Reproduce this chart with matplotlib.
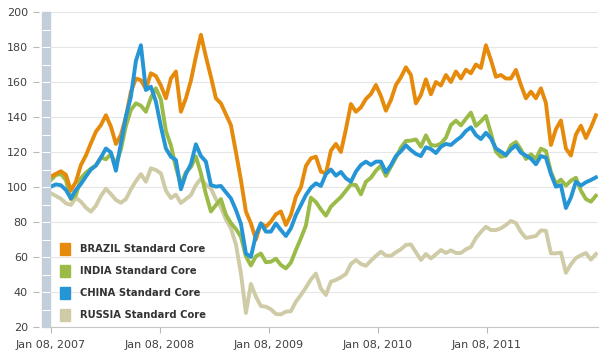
import pandas as pd
import matplotlib
matplotlib.use("Agg")
import matplotlib.pyplot as plt
import matplotlib.dates as mdates
import matplotlib.transforms as mtransforms
from matplotlib.patches import Rectangle

# roughly every 2.4 weeks, Jan 2007 - Jan 2012 (rebased index, start = 100)
dates = pd.date_range("2007-01-08", "2012-01-08", periods=110)

brazil = [106, 107.5, 109, 107, 98, 103, 112.6, 118, 125, 131.6, 135.4, 141, 134.5, 124.6, 129.7, 140,
          154.5, 162, 161, 156, 165, 163.4, 158,
          150.7, 162, 166, 143, 150.7, 160.8, 174.5, 187, 174.5, 163, 150.7, 147.8, 141.5, 135.4, 120, 104,
          86, 79.2, 70, 79.2, 77.3, 80.2,
          84.4, 86, 78.3, 84, 94.5, 99.8, 112, 116.4, 117.3, 108.8, 107.8, 120.8, 124.6, 120, 133, 147.4,
          143, 145.5, 150.3, 153.1, 158.3, 152,
          143.6, 149.7, 158.3, 162.7, 168.4, 164, 147.8, 152.6, 161.5, 153, 160, 158, 164, 160, 166, 162,
          167, 165, 170, 168, 181,
          172.6, 163, 164, 162, 162, 166.9, 158.3, 150.7, 154.5, 150.7, 156.4, 148, 124, 133, 138, 122,
          118, 130, 135, 128, 134, 141]
india = [104, 106.9, 107.4, 104, 93, 95.4, 105, 108.2, 110.5, 112.4, 117, 115.8, 118.9, 113, 121.5, 134.9,
         144, 147.8, 146.5, 143, 151, 156.4, 150,
         132, 123.8, 111.2, 101.3, 108.4, 111.4, 117.5, 107.8, 96, 86, 89.7, 93.1, 84.2, 79.4, 76, 71.6,
         60.4, 55.2, 60.4, 62, 57, 57.3,
         59, 55.4, 53.5, 56.8, 64, 70.7, 78, 93.9, 91.4, 87.2, 83.6, 88.8, 91.6, 94.3, 97.9, 101.5, 101.1,
         95.8, 103, 105.3, 109.3, 112.2,
         106.3, 111.6, 116.8, 122.5, 126.3, 126.5, 127.2, 123, 129.5, 124, 123.6, 124.8, 128.2, 135.4,
         137.9, 135.2, 139, 142.5, 134.9, 137.5, 140.6,
         130.7, 120.2, 117.3, 117.9, 123.8, 125.7, 121.5, 116, 118.7, 116, 121.9, 120.6, 108.6, 101.9,
         104.2, 100.8, 103.6, 105.3, 97.9, 93.1, 91.6, 95]
china = [100.2, 101.5, 101, 98.3, 93.5, 98.3, 101.7, 106, 110, 112.2, 116.8, 122, 119.8, 109.3, 125, 140.2,
         151.6, 172, 181, 155.4, 157.3, 148.8, 134.5,
         122, 117.3, 115.4, 98.7, 107.4, 113.1, 124.4, 117.7, 114.5, 101.1, 100.2, 100.6, 97, 93.5, 86.9,
         79, 62, 60, 72.6, 79.2, 74.5, 74.5,
         79.2, 75.4, 72, 76.4, 84, 89.7, 95.4, 99.6, 102.1, 100.6, 107.4, 110, 106.5, 108.6, 105, 103,
         108.8, 112.6, 114.5, 112.6, 114.5, 114.5,
         108.4, 112.4, 117.7, 120.4, 123.8, 121.1, 118.9, 117.7, 122.7, 121.7, 119.4, 123, 124.6, 124,
         126.5, 128.6, 132, 134.1, 129.7, 127.4, 131,
         127.8, 122, 120.2, 118.3, 121.5, 123.8, 119.6, 118, 116.2, 113, 117.7, 116.8, 107.4, 100.2, 101,
         88, 94, 103, 100.8, 102.7, 104, 105.5]
russia = [96.4, 94.9, 93.3, 90.7, 89.7, 93.9, 91.6, 88.2, 85.9, 89.3, 94.9, 99, 96, 92.6, 91, 93.1, 98.7,
          103.4, 107.4, 103, 110.7, 109.7, 107.8,
          97.9, 93.7, 95.6, 90.9, 93.1, 95.4, 101.1, 104.8, 101.3, 99.2, 93.1, 88.4, 81.5, 76.4, 67.2, 50.7,
          28, 44.6, 37.3, 32, 31.6, 30.1,
          27.4, 27.2, 28.8, 29, 34.5, 38.3, 42.5, 47.2, 50.5, 41.9, 38.3, 45.9, 46.9, 48.4, 50.3, 56, 58.3,
          56, 55, 57.9, 60.6, 63,
          60.8, 60.6, 62.7, 64.4, 66.9, 67.2, 62.7, 58.3, 61.7, 59.2, 61.5, 64, 62.3, 63.8, 62.3, 62.3,
          64.4, 65.7, 70.9, 74.3, 77.3,
          75.4, 75.4, 76.4, 78.3, 80.6, 79.4, 74.3, 70.9, 71.4, 72, 75.2, 75, 62.1, 62.1, 62.5, 51, 55.8,
          59.4, 61, 62.3, 58.5, 61.7]

names = ["BRAZIL Standard Core", "INDIA Standard Core", "CHINA Standard Core", "RUSSIA Standard Core"]
colors = ["#e68a0c", "#9bbb48", "#2595d5", "#cfcba6"]
series = [brazil, india, china, russia]
zorders = [3, 2, 4, 1]

fig = plt.figure(figsize=(6.09, 3.56), dpi=100)
ax = fig.add_axes([50 / 609, 29 / 356, 548 / 609, 315 / 356])

for vals, c, z, n in zip(series, colors, zorders, names):
    ax.plot(dates, vals, color=c, lw=2.8, zorder=z, label=n, solid_joinstyle="round")

ax.set_ylim(20, 200)
ax.set_yticks(range(20, 201, 20))
ax.set_xlim(pd.Timestamp("2007-01-05"), pd.Timestamp("2012-01-15"))
ax.set_xticks(pd.to_datetime(["2007-01-08", "2008-01-08", "2009-01-08", "2010-01-08", "2011-01-08"]))
ax.xaxis.set_major_formatter(mdates.DateFormatter("%b %d, %Y"))

ax.grid(axis="y", color="#e6e6e6", lw=0.8, zorder=0)
ax.set_axisbelow(True)
for s in ["top", "right", "left"]:
    ax.spines[s].set_visible(False)
ax.spines["bottom"].set_color("#c6c6c6")
ax.spines["left"].set_position(("outward", 8))
ax.tick_params(axis="y", length=4, width=0.8, color="#b8b8b8", pad=4, labelsize=8, labelcolor="#404040")
ax.tick_params(axis="x", length=4, width=0.8, color="#b8b8b8", pad=5, labelsize=8, labelcolor="#404040")

# blue-grey band along the y axis with white marks every 10
trans = mtransforms.blended_transform_factory(ax.transAxes, ax.transData)
band_w = 8 / 548
ax.add_patch(Rectangle((-band_w, 20), band_w, 180, transform=trans, color="#c3cedb",
                       clip_on=False, zorder=5))
ax.hlines(range(30, 200, 10), -band_w, 0, transform=trans, color="white", lw=0.8,
          clip_on=False, zorder=6)

handles = [Rectangle((0, 0), 1, 1, color=c) for c in colors]
leg = ax.legend(handles, names, loc="lower left", bbox_to_anchor=(0.018, 0.02), frameon=False,
                prop={"size": 7.2, "weight": "bold"}, handlelength=1.0, handleheight=1.5,
                handletextpad=1.0, labelspacing=0.98, borderpad=0, borderaxespad=0)
for t in leg.get_texts():
    t.set_color("#333333")

fig.savefig("out.png", dpi=100)
